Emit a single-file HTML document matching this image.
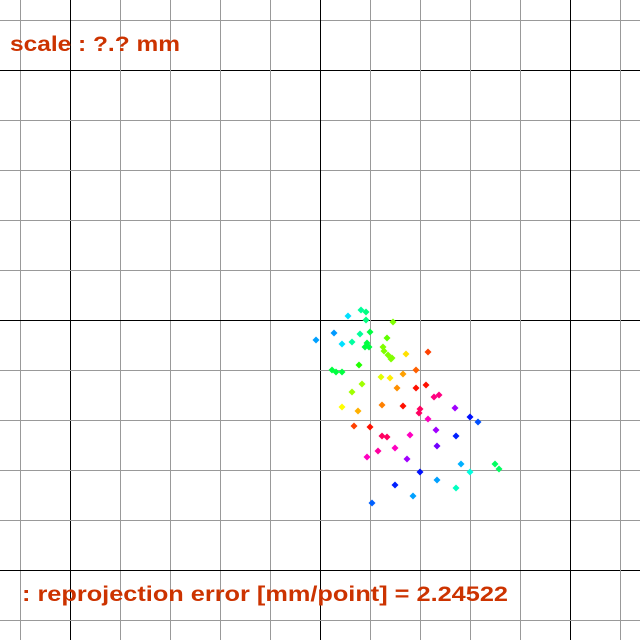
<!DOCTYPE html>
<html><head><meta charset="utf-8"><style>
html,body{margin:0;padding:0;background:#fff;}
svg{display:block;}
text{font-family:"Liberation Sans",sans-serif;font-weight:bold;fill:#cc3300;}
</style></head><body>
<svg id="chart" width="640" height="640" viewBox="0 0 640 640" xmlns="http://www.w3.org/2000/svg">
<rect width="640" height="640" fill="#fff"/>
<g id="grid"></g>
<g id="points"></g>
<text x="10" y="51" font-size="21" textLength="170" lengthAdjust="spacingAndGlyphs">scale : ?.? mm</text>
<text x="22" y="601" font-size="21" textLength="486" lengthAdjust="spacingAndGlyphs">: reprojection error [mm/point] = 2.24522</text>
</svg>
<script>
const xs=[2.8,4.1,4.6,4.6,7.3,1.4,-0.4,4.0,5.0,2.2,3.2,6.7,4.7,4.5,4.9,6.3,6.4,6.8,7.2,7.1,8.6,10.8,3.9,1.2,1.6,2.2,9.6,6.1,7.0,8.3,4.2,3.2,7.7,9.6,10.6,11.4,11.9,2.2,3.8,6.2,8.3,10.0,9.9,13.5,15.0,15.8,10.8,3.4,5.0,6.2,6.7,9.0,11.6,13.6,11.7,7.5,5.8,4.7,8.7,14.1,15.0,17.5,17.9,10.0,11.7,13.6,7.5,9.3,5.2];
const ys=[-0.4,-1.0,-0.8,0.0,0.2,1.3,2.0,1.4,1.2,2.4,2.2,1.8,2.3,2.7,2.7,2.7,3.1,3.5,3.8,3.9,3.4,3.2,4.5,5.0,5.2,5.2,5.0,5.7,5.8,5.4,6.4,7.2,6.8,6.8,6.5,7.7,7.5,8.7,9.1,8.5,8.6,8.9,9.3,8.8,9.7,10.2,9.9,10.6,10.7,11.6,11.7,11.5,11.0,11.6,12.6,12.8,13.1,13.7,13.9,14.4,15.2,14.4,14.9,15.2,16.0,16.8,16.5,17.6,18.3];
const colors=["#00e0ff","#00ff99","#00ff80","#00ff80","#80ff00","#0099ff","#00a0ff","#00ff99","#00ff40","#00e0ff","#00ffa0","#60ff00","#00ff40","#00ff40","#00ff40","#80ff00","#80ff00","#80ff00","#80ff00","#80ff00","#ffe000","#ff4000","#20ff00","#00ff40","#00ff40","#00ff40","#ff6000","#e0ff00","#ffee00","#ffa000","#a0ff00","#a0ff00","#ff9000","#ff1000","#ff1000","#ff0080","#ff0080","#ffff00","#ffb000","#ff8000","#ff1000","#ff0060","#ff0060","#a000ff","#0010ff","#0050ff","#ff00c0","#ff4000","#ff1000","#ff0060","#ff0060","#ff00c0","#a000ff","#0020ff","#7000ff","#ff00c0","#ff00a0","#ff00c0","#a000ff","#00b0ff","#00ffe0","#00ff60","#00ff60","#0010ff","#00a0ff","#00ffc0","#0020ff","#00a0ff","#0060ff"];
const NS="http://www.w3.org/2000/svg";
const sx=v=>320+v*10, sy=v=>320+v*10;
const grid=document.getElementById('grid');
for(let p=20;p<=620;p+=50){
  const major=(p===70||p===320||p===570);
  const v=document.createElementNS(NS,'line');
  v.setAttribute('x1',p+0.5);v.setAttribute('x2',p+0.5);v.setAttribute('y1',0);v.setAttribute('y2',640);
  v.setAttribute('stroke',major?'#000':'#999');v.setAttribute('stroke-width',1);
  
  
  grid.appendChild(v);
  const h=document.createElementNS(NS,'line');
  h.setAttribute('y1',p+0.5);h.setAttribute('y2',p+0.5);h.setAttribute('x1',0);h.setAttribute('x2',640);
  h.setAttribute('stroke',major?'#000':'#999');h.setAttribute('stroke-width',1);
  
  
  grid.appendChild(h);
}
const pts=document.getElementById('points');
const n=Math.min(xs.length,ys.length);
for(let i=0;i<n;i++){
  const cx=sx(xs[i]), cy=sy(ys[i]);
  const d=document.createElementNS(NS,'polygon');
  d.setAttribute('points',`${cx},${cy-3.5} ${cx+3.5},${cy} ${cx},${cy+3.5} ${cx-3.5},${cy}`);
  d.setAttribute('fill',colors[i%colors.length]);
  
  
  pts.appendChild(d);
}
</script>
</body></html>
